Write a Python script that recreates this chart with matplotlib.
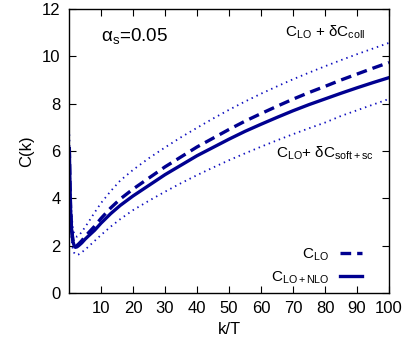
import matplotlib
matplotlib.use("Agg")
import matplotlib.pyplot as plt

plt.rcParams['font.family'] = ['Liberation Sans', 'DejaVu Sans']
plt.rcParams['mathtext.fontset'] = 'custom'
plt.rcParams['mathtext.rm'] = 'Liberation Sans'
plt.rcParams['mathtext.it'] = 'Liberation Sans'

k_over_T = [0.1, 0.3, 0.5, 0.8, 1.2, 1.6, 2, 2.5, 3, 4, 5, 6, 8, 10, 13, 16, 20, 25,
            30, 35, 40, 45, 50, 55, 60, 65, 70, 75, 80, 85, 90, 95, 100]
c_lo_nlo = [6.1, 4.6, 3.5, 2.7, 2.2, 2.0, 1.93, 1.95, 2.0, 2.12, 2.27, 2.4, 2.65, 2.95,
            3.35, 3.7, 4.1, 4.55, 5.0, 5.4, 5.8, 6.15, 6.5, 6.83, 7.13, 7.42, 7.7,
            7.96, 8.2, 8.44, 8.67, 8.89, 9.1]
c_lo = [6.15, 4.65, 3.55, 2.75, 2.25, 2.05, 1.98, 2.01, 2.07, 2.21, 2.38, 2.53, 2.82,
        3.15, 3.59, 3.97, 4.39, 4.86, 5.33, 5.75, 6.17, 6.54, 6.91, 7.26, 7.58, 7.89,
        8.19, 8.47, 8.73, 9.0, 9.25, 9.5, 9.74]
c_lo_coll = [6.7, 5.3, 4.2, 3.3, 2.75, 2.5, 2.4, 2.38, 2.42, 2.58, 2.78, 2.98, 3.4,
             3.8, 4.3, 4.75, 5.2, 5.7, 6.15, 6.58, 6.98, 7.37, 7.74, 8.09, 8.42, 8.73,
             9.03, 9.31, 9.58, 9.84, 10.09, 10.33, 10.57]
c_lo_soft = [5.6, 4.0, 3.0, 2.25, 1.85, 1.7, 1.63, 1.61, 1.63, 1.72, 1.83, 1.95, 2.2,
             2.45, 2.8, 3.12, 3.5, 3.9, 4.28, 4.64, 4.98, 5.3, 5.61, 5.9, 6.18, 6.45,
             6.71, 6.96, 7.2, 7.48, 7.72, 7.96, 8.2]

x_ticks = [10, 20, 30, 40, 50, 60, 70, 80, 90, 100]
y_ticks = [0, 2, 4, 6, 8, 10, 12]

navy = '#000090'
blue = '#1010c0'

fig = plt.figure(figsize=(4.11, 3.5), dpi=100)
ax = fig.add_axes([69/411, 57/350, 320/411, 284/350])

ax.plot(k_over_T, c_lo_coll, color=blue, lw=1.3, linestyle=(0, (0.8, 2.2)))
ax.plot(k_over_T, c_lo_soft, color=blue, lw=1.3, linestyle=(0, (0.8, 2.2)))
l1, = ax.plot(k_over_T, c_lo, color=navy, lw=2.4, linestyle=(0, (3.2, 1.8)),
              label='C$_\\mathrm{LO}$')
l2, = ax.plot(k_over_T, c_lo_nlo, color=navy, lw=2.4, label='C$_\\mathrm{LO+NLO}$')

ax.set_xlim(0, 100)
ax.set_ylim(0, 12)
ax.set_xticks(x_ticks)
ax.set_yticks(y_ticks)
ax.tick_params(direction='in', top=True, right=True, labelsize=12, length=5,
               width=0.8, pad=6)
for s in ax.spines.values():
    s.set_linewidth(1.0)

ax.set_xlabel('k/T', fontsize=12, labelpad=4)
ax.set_ylabel('C(k)', fontsize=12, labelpad=6)

ax.text(10, 10.63, '\u03b1$_\\mathrm{s}$=0.05', fontsize=13.5, va='baseline',
        ha='left')
ax.text(92.5, 11.0, 'C$_\\mathrm{LO}$ + \u03b4C$_\\mathrm{coll}$', fontsize=11,
        va='center', ha='right')
ax.text(95.3, 5.92, 'C$_\\mathrm{LO}$+ \u03b4C$_\\mathrm{soft+sc}$', fontsize=11,
        va='center', ha='right')

ax.legend(handles=[l1, l2], loc='lower right', frameon=False, markerfirst=False,
          fontsize=11, handlelength=1.45, handletextpad=0.7, borderpad=0,
          borderaxespad=0, labelspacing=0.45, bbox_to_anchor=(0.916, 0.025))

fig.savefig('out.png', dpi=100)
